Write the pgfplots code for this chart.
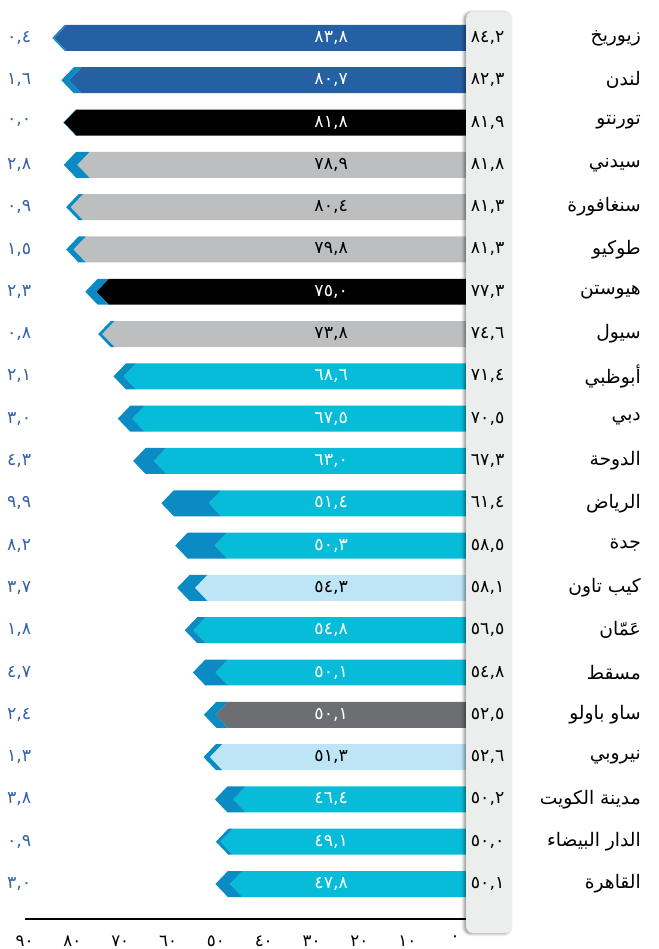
\documentclass[border=0pt]{standalone}
\usepackage{fontspec}
\setmainfont{DejaVu Sans}
\newfontfamily\arabicfont[Script=Arabic]{DejaVu Sans}
\TeXXeTstate=1
\usepackage{pgfplots}
\pgfplotsset{compat=1.18}
\usetikzlibrary{shadows.blur}
\definecolor{cdblue}{HTML}{2660A4}
\definecolor{cblack}{HTML}{000000}
\definecolor{clgrey}{HTML}{BCBEC0}
\definecolor{ccyan}{HTML}{07BCD9}
\definecolor{clblue}{HTML}{BDE5F5}
\definecolor{cdgrey}{HTML}{6D6E71}
\definecolor{chev}{HTML}{0A8BC3}
\definecolor{difftext}{HTML}{3461A8}
\definecolor{boxgrey}{HTML}{ECEDED}
\def\ad{2.6}
\def\hh{0.307}
\newcommand\numfont{\arabicfont\fontsize{13}{15}\selectfont}
% \cityrow{y}{total}{diff}{barcolor}{textcolor}{inner label}{diff label}{name}
\newcommand\cityrow[8]{%
  \pgfmathsetmacro\tA{#2-\ad}%
  \pgfmathsetmacro\tB{#2-#3}%
  \pgfmathsetmacro\tC{#2-#3-\ad}%
  \pgfmathsetmacro\yU{#1+\hh}%
  \pgfmathsetmacro\yD{#1-\hh}%
  \edef\temp{%
    \noexpand\addplot[fill=#4,draw=none] coordinates {(\tB,#1) (\tC,\yU) (-2.4,\yU) (-2.4,\yD) (\tC,\yD)};
    \noexpand\addplot[fill=chev,draw=none] coordinates {(#2,#1) (\tA,\yU) (\tC,\yU) (\tB,#1) (\tC,\yD) (\tA,\yD)};
  }\temp
  \node[font=\numfont,text=#5] at (axis cs:25.9,#1) {#6};
  \node[font=\numfont,text=difftext,anchor=east] at (axis cs:87.6,#1) {#7};
  \node[font=\arabicfont\fontsize{14}{16}\selectfont,text=black,anchor=east] at (axis cs:-39.8,#1) {#8};
}
\newcommand\totlabel[2]{\node[font=\numfont,text=black] at (axis cs:-6.8,#1) {#2};}
\begin{document}
\begin{tikzpicture}
\useasboundingbox (-18.4pt,-22.5pt) rectangle (475.85pt,689.25pt);
\begin{axis}[
  scale only axis,
  width=331.9pt, height=683pt,
  x dir=reverse,
  xmin=-2.5, xmax=90,
  ymin=0.173, ymax=21.7,
  axis x line=bottom,
  axis y line=none,
  axis line style={line width=1.2pt, -},
  xtick={0,10,20,30,40,50,60,70,80,90},
  xticklabels={٠,١٠,٢٠,٣٠,٤٠,٥٠,٦٠,٧٠,٨٠,٩٠},
  xticklabel style={font=\arabicfont\fontsize{12.5}{14}\selectfont, yshift=-9pt},
  major tick length=0pt,
  ytick=\empty,
  clip=false,
]
\cityrow{21}{84.2}{0.4}{cdblue}{white}{٨٣,٨}{٠,٤}{\beginR زيوريخ\endR}
\cityrow{20}{82.3}{1.6}{cdblue}{white}{٨٠,٧}{١,٦}{\beginR لندن\endR}
\cityrow{19}{81.9}{0.1}{cblack}{white}{٨١,٨}{٠,٠}{\beginR تورنتو\endR}
\cityrow{18}{81.8}{2.8}{clgrey}{black}{٧٨,٩}{٢,٨}{\beginR سيدني\endR}
\cityrow{17}{81.3}{0.9}{clgrey}{black}{٨٠,٤}{٠,٩}{\beginR سنغافورة\endR}
\cityrow{16}{81.3}{1.5}{clgrey}{black}{٧٩,٨}{١,٥}{\beginR طوكيو\endR}
\cityrow{15}{77.3}{2.3}{cblack}{white}{٧٥,٠}{٢,٣}{\beginR هيوستن\endR}
\cityrow{14}{74.6}{0.8}{clgrey}{black}{٧٣,٨}{٠,٨}{\beginR سيول\endR}
\cityrow{13}{71.4}{2.1}{ccyan}{white}{٦٨,٦}{٢,١}{\beginR أبوظبي\endR}
\cityrow{12}{70.5}{3.0}{ccyan}{white}{٦٧,٥}{٣,٠}{\beginR دبي\endR}
\cityrow{11}{67.3}{4.3}{ccyan}{white}{٦٣,٠}{٤,٣}{\beginR الدوحة\endR}
\cityrow{10}{61.4}{9.9}{ccyan}{white}{٥١,٤}{٩,٩}{\beginR الرياض\endR}
\cityrow{9}{58.5}{8.2}{ccyan}{white}{٥٠,٣}{٨,٢}{\beginR جدة\endR}
\cityrow{8}{58.1}{3.7}{clblue}{black}{٥٤,٣}{٣,٧}{\beginR كيب تاون\endR}
\cityrow{7}{56.5}{1.8}{ccyan}{white}{٥٤,٨}{١,٨}{\beginR عَمّان\endR}
\cityrow{6}{54.8}{4.7}{ccyan}{white}{٥٠,١}{٤,٧}{\beginR مسقط\endR}
\cityrow{5}{52.5}{2.4}{cdgrey}{white}{٥٠,١}{٢,٤}{\beginR ساو باولو\endR}
\cityrow{4}{52.6}{1.3}{clblue}{black}{٥١,٣}{١,٣}{\beginR نيروبي\endR}
\cityrow{3}{50.2}{3.8}{ccyan}{white}{٤٦,٤}{٣,٨}{\beginR مدينة الكويت\endR}
\cityrow{2}{50.0}{0.9}{ccyan}{white}{٤٩,١}{٠,٩}{\beginR الدار البيضاء\endR}
\cityrow{1}{50.1}{3.0}{ccyan}{white}{٤٧,٨}{٣,٠}{\beginR القاهرة\endR}
\fill[boxgrey, rounded corners=5pt, blur shadow={shadow xshift=-1.5pt, shadow yshift=-0.5pt, shadow blur steps=6, shadow opacity=45}] (axis cs:-2.3,-0.158) rectangle (axis cs:-11.9,21.615);
\totlabel{21}{٨٤,٢}
\totlabel{20}{٨٢,٣}
\totlabel{19}{٨١,٩}
\totlabel{18}{٨١,٨}
\totlabel{17}{٨١,٣}
\totlabel{16}{٨١,٣}
\totlabel{15}{٧٧,٣}
\totlabel{14}{٧٤,٦}
\totlabel{13}{٧١,٤}
\totlabel{12}{٧٠,٥}
\totlabel{11}{٦٧,٣}
\totlabel{10}{٦١,٤}
\totlabel{9}{٥٨,٥}
\totlabel{8}{٥٨,١}
\totlabel{7}{٥٦,٥}
\totlabel{6}{٥٤,٨}
\totlabel{5}{٥٢,٥}
\totlabel{4}{٥٢,٦}
\totlabel{3}{٥٠,٢}
\totlabel{2}{٥٠,٠}
\totlabel{1}{٥٠,١}
\end{axis}
\end{tikzpicture}
\end{document}
